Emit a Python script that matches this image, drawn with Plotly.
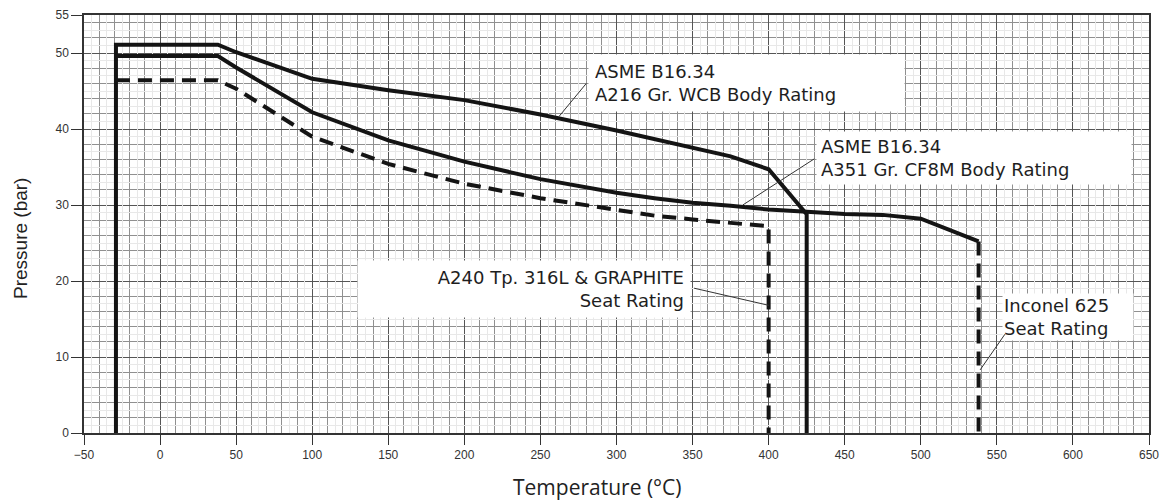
import plotly.graph_objects as go

# ---- data ----
wcb_temp = [-29, -29, 38, 50, 100, 150, 200, 250, 300, 325, 350, 375, 400, 425, 425]
wcb_pres = [0, 51.1, 51.1, 50.1, 46.6, 45.1, 43.8, 41.9, 39.8, 38.7, 37.6, 36.4, 34.7, 28.8, 0]

cf8m_temp = [-29, 38, 50, 100, 150, 200, 250, 300, 325, 350, 375, 400, 425, 450, 475, 500, 538]
cf8m_pres = [49.6, 49.6, 48.1, 42.2, 38.5, 35.7, 33.4, 31.6, 30.9, 30.3, 29.9, 29.4, 29.1, 28.8, 28.7, 28.2, 25.2]

seat316_temp = [-29, 38, 50, 100, 150, 200, 250, 300, 325, 350, 375, 400, 400]
seat316_pres = [46.4, 46.4, 45.3, 39.0, 35.4, 32.8, 30.9, 29.4, 28.6, 28.1, 27.6, 27.2, 0]

inconel_temp = [538, 538]
inconel_pres = [25.2, 0]

x_ticks = list(range(-50, 651, 50))
y_ticks = [0, 10, 20, 30, 40, 50, 55]

labels = [
    "ASME B16.34<br>A216 Gr. WCB Body Rating",
    "ASME B16.34<br>A351 Gr. CF8M Body Rating",
    "A240 Tp. 316L & GRAPHITE<br>Seat Rating",
    "Inconel 625<br>Seat Rating",
]

INK = "#141414"
fig = go.Figure()

line_solid = dict(color=INK, width=4)
line_dash = dict(color=INK, width=4, dash="14px,8px")

fig.add_trace(go.Scatter(x=wcb_temp, y=wcb_pres, mode="lines", line=line_solid, showlegend=False))
fig.add_trace(go.Scatter(x=cf8m_temp, y=cf8m_pres, mode="lines", line=line_solid, showlegend=False))
fig.add_trace(go.Scatter(x=seat316_temp, y=seat316_pres, mode="lines", line=line_dash, showlegend=False))
fig.add_trace(go.Scatter(x=inconel_temp, y=inconel_pres, mode="lines", line=line_dash, showlegend=False))
# empty trace to host the faint fine grid axes
fig.add_trace(go.Scatter(x=[], y=[], xaxis="x2", yaxis="y2", showlegend=False, hoverinfo="skip"))

ann_font = dict(family="DejaVu Sans, Verdana, sans-serif", size=18, color="#1e1e1e")
lead = dict(showarrow=True, arrowhead=0, arrowwidth=1, arrowcolor="#333", text="",
            axref="x", ayref="y", xref="x", yref="y")

annotations = [
    # text boxes
    dict(x=385.2, y=46.1, text=labels[0], xanchor="center", yanchor="middle",
         showarrow=False, bgcolor="white", width=303, borderpad=6, align="left", font=ann_font),
    dict(x=535.0, y=36.2, text=labels[1], xanchor="center", yanchor="middle",
         showarrow=False, bgcolor="white", width=306, borderpad=4, align="left", font=ann_font),
    dict(x=239.5, y=19.0, text=labels[2], xanchor="center", yanchor="middle",
         showarrow=False, bgcolor="white", width=320, borderpad=6, align="right", font=ann_font),
    dict(x=596.7, y=15.3, text=labels[3], xanchor="center", yanchor="middle",
         showarrow=False, bgcolor="white", width=128, borderpad=1, align="left", font=ann_font),
    # leader lines
    dict(x=262, y=41.6, ax=281, ay=46.2, **lead),
    dict(x=383, y=30.0, ax=431, ay=36.2, **lead),
    dict(x=400, y=16.8, ax=350, ay=19.1, **lead),
    dict(x=539, y=8.3, ax=556, ay=13.2, **lead),
    # axis titles
    dict(xref="paper", yref="paper", x=0.4817, y=-0.129, yanchor="middle", xanchor="center",
         text="Temperature (°C)", showarrow=False,
         font=dict(family="Open Sans", size=21, color="#222")),
    dict(xref="paper", yref="paper", x=-0.0601, y=0.4665, yanchor="middle", xanchor="center",
         text="Pressure (bar)", showarrow=False, textangle=-90,
         font=dict(family="Liberation Sans", size=19, color="#222")),
]

# the page body has an 8px margin, so the figure is sized / offset to compensate
fig.update_layout(
    width=1161, height=493,
    margin=dict(l=76, r=20, t=7, b=68, autoexpand=False),
    paper_bgcolor="white", plot_bgcolor="white",
    annotations=annotations,
    xaxis=dict(
        range=[-50, 650], tickmode="array", tickvals=x_ticks, automargin=False,
        ticks="outside", ticklen=10, tickcolor="#333", tickwidth=1,
        showline=True, linecolor="#333", linewidth=1.5, mirror=True,
        showgrid=True, gridcolor="#555", gridwidth=1, zeroline=False,
        minor=dict(dtick=10, tick0=0, showgrid=True, gridcolor="#909090", gridwidth=1, ticks=""),
        tickfont=dict(family="Liberation Sans", size=12, color="#333"),
    ),
    yaxis=dict(
        range=[0, 55], tickmode="array", tickvals=y_ticks, automargin=False,
        ticks="outside", ticklen=11, tickcolor="#333", tickwidth=1,
        showline=True, linecolor="#333", linewidth=1.5, mirror=True,
        showgrid=True, gridcolor="#555", gridwidth=1, zeroline=False,
        minor=dict(dtick=2, tick0=0, showgrid=True, gridcolor="#909090", gridwidth=1, ticks=""),
        tickfont=dict(family="Liberation Sans", size=12, color="#333"),
    ),
    xaxis2=dict(overlaying="x", range=[-50, 650], tickmode="linear", tick0=-45, dtick=10,
                showgrid=True, gridcolor="#e8e8e8", gridwidth=1, showticklabels=False,
                ticks="", zeroline=False, showline=False, automargin=False),
    yaxis2=dict(overlaying="y", range=[0, 55], tickmode="linear", tick0=1, dtick=2,
                showgrid=True, gridcolor="#e8e8e8", gridwidth=1, showticklabels=False,
                ticks="", zeroline=False, showline=False, automargin=False),
)

fig.write_html("out.html")
